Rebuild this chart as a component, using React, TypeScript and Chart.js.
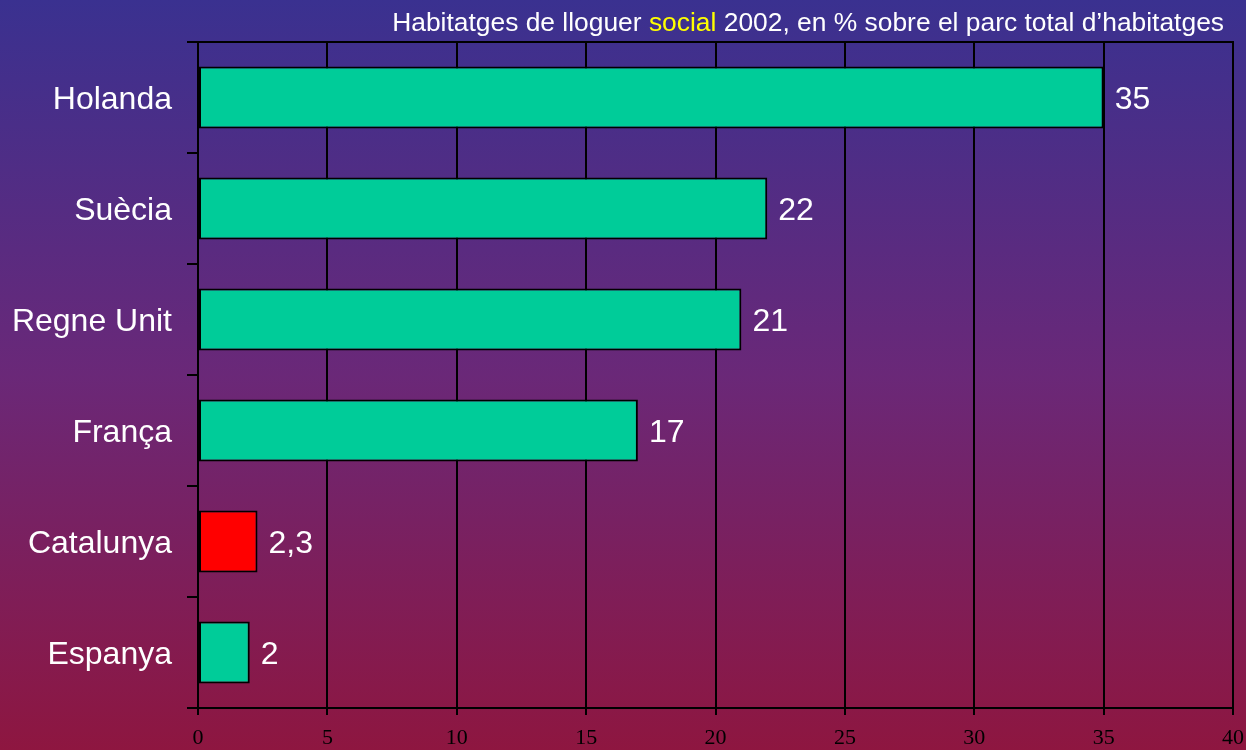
import React, { useEffect, useRef } from "react";
import { Chart, registerables } from "chart.js";

Chart.register(...registerables);

const categories = ["Holanda", "Suècia", "Regne Unit", "França", "Catalunya", "Espanya"];
const values = [35, 22, 21, 17, 2.3, 2];
const barColors = ["#00cc99", "#00cc99", "#00cc99", "#00cc99", "#ff0000", "#00cc99"];
const titleParts = [
  { text: "Habitatges de lloguer ", color: "#ffffff" },
  { text: "social", color: "#ffff00" },
  { text: " 2002, en % sobre el parc total d\u2019habitatges", color: "#ffffff" },
];
const xMin = 0;
const xMax = 40;
const xStep = 5;

const sans = "'Liberation Sans', Arial, sans-serif";
const serif = "'Liberation Serif', 'Times New Roman', serif";

export default function App() {
  const ref = useRef<HTMLCanvasElement | null>(null);

  useEffect(() => {
    document.body.style.margin = "0";
    const canvas = ref.current;
    if (!canvas) return;

    const overlay = {
      id: "overlay",
      afterDraw(chart: any) {
        const ctx = chart.ctx;
        const area = chart.chartArea;
        ctx.save();
        // top border line
        ctx.strokeStyle = "#000";
        ctx.lineWidth = 2;
        ctx.beginPath();
        ctx.moveTo(area.left - 11, area.top);
        ctx.lineTo(area.right + 1, area.top);
        ctx.stroke();
        // value labels
        const meta = chart.getDatasetMeta(0);
        ctx.font = `32px ${sans}`;
        ctx.fillStyle = "#fff";
        ctx.textAlign = "left";
        ctx.textBaseline = "middle";
        meta.data.forEach((bar: any, i: number) => {
          const label = String(values[i]).replace(".", ",");
          ctx.fillText(label, bar.x + 11, bar.y + 3);
        });
        // title
        ctx.font = `26.4px ${sans}`;
        ctx.textBaseline = "alphabetic";
        const total = titleParts.reduce((s, p) => s + ctx.measureText(p.text).width, 0);
        let x = 1224 - total;
        for (const p of titleParts) {
          ctx.fillStyle = p.color;
          ctx.fillText(p.text, x, 31);
          x += ctx.measureText(p.text).width;
        }
        ctx.restore();
      },
    };

    const chart = new Chart(canvas, {
      type: "bar",
      data: {
        labels: categories,
        datasets: [
          {
            data: values,
            backgroundColor: barColors,
            borderColor: "#000",
            borderWidth: 2,
            borderSkipped: false,
            barPercentage: 0.56,
            categoryPercentage: 1,
          },
        ],
      },
      options: {
        indexAxis: "y",
        responsive: false,
        animation: false,
        layout: { padding: { top: 42, right: 13, left: 0, bottom: 0 } },
        plugins: {
          legend: { display: false },
          tooltip: { enabled: false },
          title: { display: false },
        },
        scales: {
          x: {
            min: xMin,
            max: xMax,
            afterFit: (scale: any) => {
              scale.height = 42;
              scale.paddingLeft = 0;
              scale.paddingRight = 0;
            },
            ticks: {
              stepSize: xStep,
              color: "#000",
              font: { family: serif, size: 22 },
              padding: 10,
            },
            grid: {
              color: "#000",
              lineWidth: 2,
              tickLength: 7,
              drawTicks: true,
            },
            border: { display: true, color: "#000", width: 2 },
          },
          y: {
            afterFit: (scale: any) => {
              scale.width = 198;
            },
            ticks: {
              color: "#fff",
              font: { family: sans, size: 32 },
              padding: 15,
              labelOffset: 3,
            },
            grid: {
              offset: true,
              drawOnChartArea: false,
              color: "#000",
              tickColor: "#000",
              lineWidth: 2,
              tickLength: 11,
            },
            border: { display: true, color: "#000", width: 2 },
          },
        },
      },
      plugins: [overlay],
    });
    return () => chart.destroy();
  }, []);

  return (
    <div
      style={{
        width: 1246,
        height: 750,
        background: "linear-gradient(to bottom, #3a3190 0%, #6a2878 50%, #8e1640 100%)",
      }}
    >
      <canvas ref={ref} width={1246} height={750} style={{ display: "block" }} />
    </div>
  );
}
